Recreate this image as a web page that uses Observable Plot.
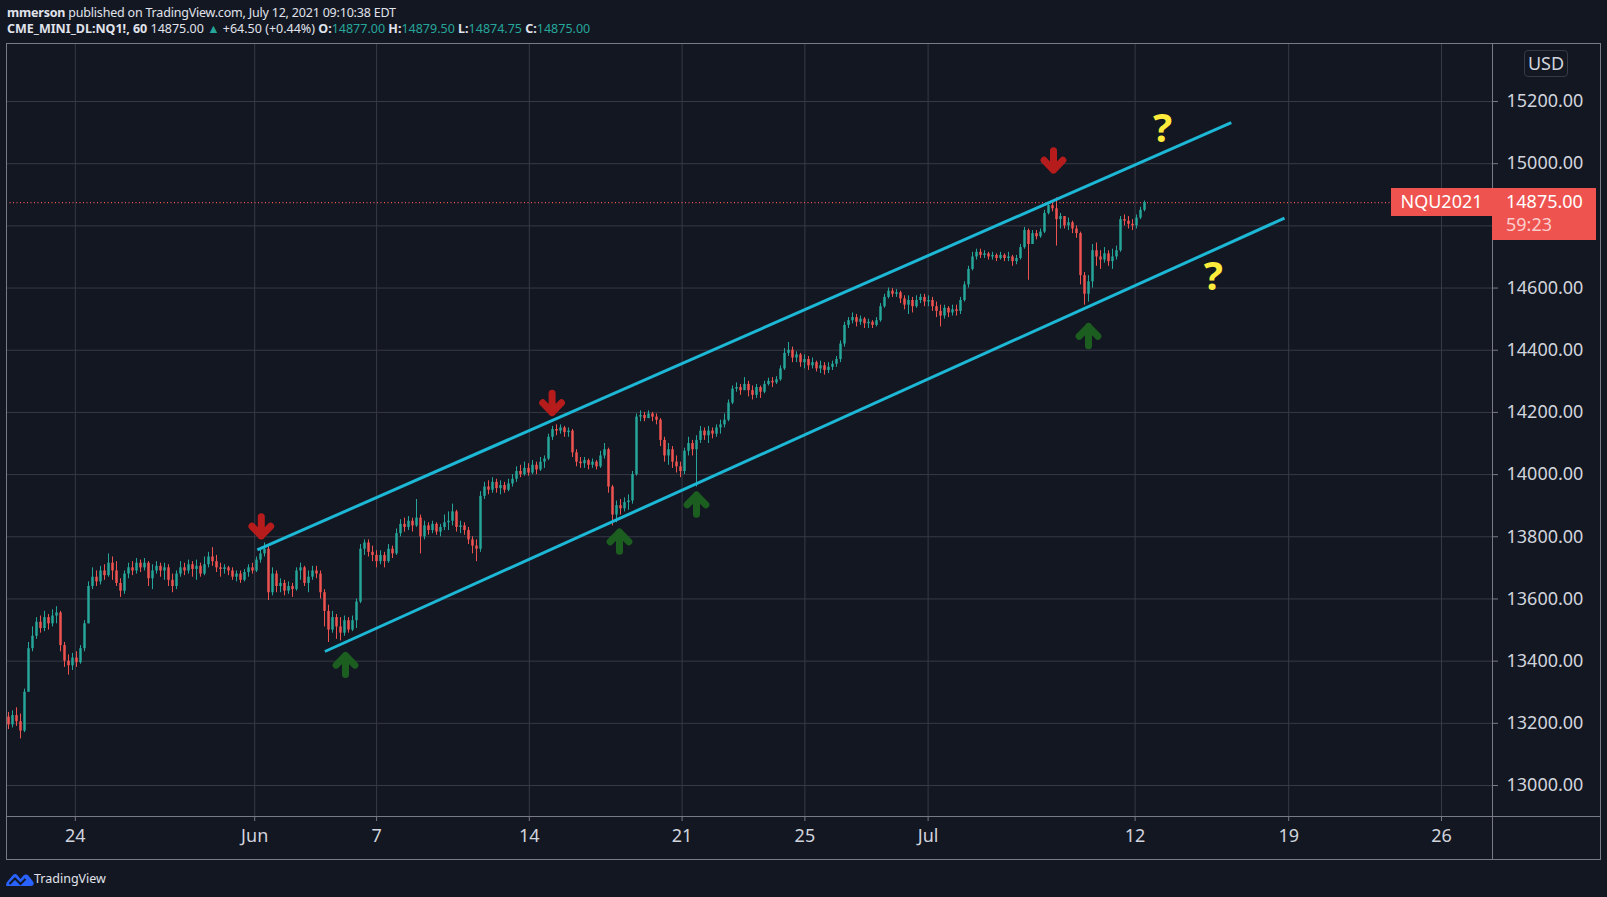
<!DOCTYPE html>
<html><head><meta charset="utf-8">
<script src="https://cdn.jsdelivr.net/npm/d3@7"></script>
<script src="https://cdn.jsdelivr.net/npm/@observablehq/plot@0.6"></script>
<style>
html,body{margin:0;padding:0;background:#131722;width:1607px;height:897px;overflow:hidden;font-family:"Noto Sans",sans-serif;color:#d1d4dc}
.hdr{position:absolute;left:7px;font-size:12.5px;white-space:nowrap;line-height:16px;color:#e0e3eb}
.teal{color:#26a69a}
.frame{position:absolute;left:6px;top:43px;width:1595px;height:817px;border:1px solid #787b86;box-sizing:border-box;z-index:2}
.vsep{position:absolute;left:1492px;top:43px;width:1px;height:817px;background:#787b86;z-index:2}
.hsep{position:absolute;left:6px;top:816px;width:1595px;height:1px;background:#787b86;z-index:2}
#chart{position:absolute;left:0;top:43px;z-index:1}
#chart svg g[aria-label="y-axis tick"], #chart svg g[aria-label="x-axis tick"]{stroke:#787b86}
.tag{position:absolute;background:#ef5350;color:#fff;font-size:18px;z-index:3;box-sizing:border-box;white-space:nowrap}
#usd{position:absolute;left:1524px;top:50px;width:44px;height:27px;border:1px solid #363a45;border-radius:4px;box-sizing:border-box;font-size:18px;line-height:24px;text-align:center;color:#d1d4dc;z-index:3}
#logo{position:absolute;left:6px;top:871px;z-index:3}
#logotext{position:absolute;left:34px;top:870px;font-size:12.5px;line-height:18px;color:#e0e3eb}
</style></head>
<body>
<div id="hdr1" class="hdr" style="top:5px;letter-spacing:-0.2px"></div>
<div id="hdr2" class="hdr" style="top:21px"></div>
<div id="chart"></div>
<div class="frame"></div><div class="vsep"></div><div class="hsep"></div>
<div id="usd">USD</div>
<svg id="logo" width="28" height="17" viewBox="0 0 28 17">
  <path d="M1,15 C-0.5,15 0,12 1.5,10.5 L7,4 C8.3,2.6 10,2.6 11.2,4 L14.5,8 L17.5,4.5 C19,3 21,3 22.3,4.6 L27,10.5 C28.5,12.5 27.5,15 25,15 Z" fill="#2962ff"/>
  <path d="M3.5,13 L9,7.5 L14.5,13 L19.5,8" fill="none" stroke="#131722" stroke-width="2"/>
</svg>
<div id="logotext">TradingView</div>
<script>
// ---------- data ----------
const publisher = "mmerson";
const publishedText = "published on TradingView.com, July 12, 2021 09:10:38 EDT";
const symbolText = "CME_MINI_DL:NQ1!, 60";
const lastPrice = 14875.00;
const changeText = "+64.50 (+0.44%)";
const ohlcLabels = ["O", "H", "L", "C"];
const ohlcValues = [14877.00, 14879.50, 14874.75, 14875.00];
const contractName = "NQU2021";
const countdown = "59:23";

const yTicks = [13000, 13200, 13400, 13600, 13800, 14000, 14200, 14400, 14600, 14800, 15000, 15200];
const xTickPos = [16.7, 61.55, 92.03, 130.2, 168.4, 199.1, 229.9, 281.65, 320.05, 358.25];
const xTickLabels = ["24", "Jun", "7", "14", "21", "25", "Jul", "12", "19", "26"];

const firstOpen = 13220;
const close = [
13195,13225,13205,13175,13300,13440,13480,13525,13505,13540,
13520,13545,13555,13450,13400,13385,13410,13395,13440,13520,
13640,13670,13655,13690,13675,13715,13690,13650,13625,13680,
13700,13690,13715,13700,13715,13665,13690,13705,13690,13700,
13660,13640,13680,13700,13690,13710,13695,13705,13680,13710,
13735,13720,13700,13695,13700,13690,13670,13680,13660,13685,
13700,13690,13725,13745,13760,13620,13680,13640,13650,13625,
13640,13630,13690,13700,13650,13670,13690,13680,13620,13560,
13500,13540,13510,13490,13530,13500,13530,13590,13760,13780,
13750,13740,13720,13740,13720,13760,13745,13810,13840,13830,
13850,13835,13860,13800,13835,13820,13840,13815,13830,13845,
13850,13880,13830,13835,13820,13790,13770,13760,13930,13960,
13950,13975,13955,13965,13950,13970,13985,14010,14000,14020,
14005,14030,14015,14040,14050,14120,14145,14140,14150,14135,
14140,14070,14040,14035,14045,14030,14040,14025,14060,14080,
13960,13870,13900,13890,13910,13915,14000,14185,14190,14180,
14195,14185,14175,14110,14060,14080,14040,14025,14010,14075,
14100,14080,14110,14140,14125,14140,14130,14150,14160,14175,
14230,14275,14280,14270,14290,14270,14255,14280,14265,14290,
14300,14295,14305,14340,14390,14400,14375,14385,14360,14370,
14350,14360,14340,14350,14335,14345,14355,14370,14420,14480,
14495,14505,14490,14500,14485,14490,14480,14495,14540,14570,
14590,14580,14585,14565,14545,14560,14540,14560,14570,14555,
14560,14540,14525,14510,14535,14520,14530,14525,14560,14610,
14660,14700,14715,14705,14710,14700,14705,14695,14705,14695,
14700,14685,14695,14730,14785,14740,14775,14765,14780,14840,
14865,14855,14820,14830,14800,14810,14790,14775,14640,14580,
14620,14720,14700,14690,14710,14685,14700,14720,14820,14815,
14805,14800,14825,14850,14875];
const high = [
13235,13240,13250,13230,13310,13460,13510,13540,13545,13560,
13550,13565,13575,13560,13460,13420,13425,13430,13450,13530,
13655,13700,13690,13705,13710,13745,13735,13720,13665,13690,
13715,13720,13730,13725,13730,13720,13710,13720,13715,13715,
13710,13680,13690,13720,13715,13725,13720,13725,13715,13735,
13750,13765,13740,13715,13710,13705,13700,13690,13690,13695,
13710,13715,13735,13760,13780,13775,13700,13690,13665,13660,
13655,13650,13700,13715,13705,13690,13705,13705,13690,13630,
13580,13560,13550,13540,13545,13540,13545,13600,13775,13790,
13790,13770,13755,13755,13750,13775,13770,13825,13855,13860,
13865,13860,13920,13870,13850,13845,13850,13845,13840,13870,
13880,13905,13885,13850,13845,13830,13800,13790,13945,13975,
13980,13990,13985,13980,13975,13985,14000,14025,14030,14040,
14035,14045,14040,14055,14060,14130,14155,14160,14160,14155,
14150,14145,14080,14055,14055,14050,14050,14045,14075,14100,
14085,13965,13915,13920,13925,13935,14010,14195,14205,14200,
14205,14200,14195,14180,14120,14100,14090,14060,14040,14085,
14120,14110,14125,14155,14150,14155,14150,14160,14175,14195,
14240,14285,14295,14290,14312,14300,14285,14290,14285,14300,
14310,14312,14315,14350,14405,14425,14410,14395,14390,14385,
14380,14375,14365,14365,14360,14360,14365,14380,14430,14490,
14505,14520,14515,14510,14505,14500,14495,14505,14550,14580,
14600,14598,14595,14590,14575,14575,14570,14575,14580,14580,
14575,14570,14555,14545,14545,14540,14545,14545,14570,14620,
14670,14715,14725,14725,14720,14715,14715,14710,14715,14710,
14715,14705,14705,14740,14795,14790,14785,14785,14790,14850,
14875,14880,14890,14840,14830,14825,14815,14800,14780,14650,
14640,14740,14745,14720,14730,14720,14725,14735,14830,14835,
14830,14820,14835,14860,14880];
const low = [
13180,13185,13190,13150,13170,13300,13430,13470,13490,13495,
13500,13510,13520,13430,13380,13355,13370,13380,13390,13430,
13520,13630,13640,13645,13660,13670,13660,13640,13605,13615,
13665,13675,13680,13685,13690,13640,13630,13680,13670,13660,
13640,13620,13630,13670,13675,13680,13670,13660,13670,13675,
13700,13705,13685,13670,13680,13675,13660,13655,13650,13655,
13670,13680,13685,13715,13735,13595,13610,13620,13620,13610,
13615,13605,13625,13660,13640,13620,13660,13665,13600,13510,
13460,13490,13470,13465,13480,13490,13495,13505,13585,13740,
13735,13720,13700,13710,13700,13715,13730,13740,13800,13815,
13820,13815,13830,13745,13790,13805,13810,13805,13800,13820,
13820,13835,13815,13810,13805,13775,13745,13720,13750,13920,
13935,13940,13940,13935,13940,13945,13960,13975,13990,13995,
13995,14000,14000,14010,14020,14045,14110,14125,14130,14120,
14120,14055,14025,14020,14020,14015,14020,14015,14020,14050,
13940,13835,13845,13870,13880,13885,13905,13995,14170,14170,
14180,14170,14160,14090,14040,14030,14020,14005,13990,14000,
14060,14060,13960,14100,14110,14100,14115,14120,14130,14150,
14170,14225,14265,14255,14270,14250,14240,14245,14245,14260,
14285,14280,14290,14300,14335,14380,14360,14360,14345,14340,
14335,14340,14330,14325,14320,14325,14335,14345,14360,14410,
14470,14485,14475,14480,14470,14470,14470,14475,14490,14535,
14565,14570,14570,14550,14530,14515,14520,14535,14550,14540,
14540,14525,14505,14475,14500,14505,14510,14510,14515,14555,
14600,14655,14690,14695,14695,14690,14690,14685,14690,14685,
14685,14670,14675,14690,14725,14625,14740,14755,14760,14775,
14835,14845,14735,14790,14790,14785,14775,14760,14610,14545,
14555,14600,14670,14660,14680,14670,14660,14690,14715,14800,
14790,14785,14790,14820,14845];

// channel lines (bar index, price)
const upperX = [62.2, 305.7];
const upperY = [13758, 15132];
const lowerX = [79.1, 319.0];
const lowerY = [13431, 14825];

// annotations
const downArrowX = [63.2, 135.9, 261.25];
const downArrowY = [13833, 14230, 15010];
const upArrowX = [84.25, 152.75, 172.0, 270.0];
const upArrowY = [13388, 13785, 13904, 14446];
const questionX = [288.5, 301.2];
const questionY = [15110, 14635];

// ---------- header ----------
document.getElementById("hdr1").innerHTML = `<b>${publisher}</b> ${publishedText}`;
document.getElementById("hdr2").innerHTML =
  `<b>${symbolText}</b> ${lastPrice.toFixed(2)} <span class="teal">&#9650;</span> ${changeText} ` +
  ohlcLabels.map((l, k) => `<b>${l}:</b><span class="teal">${ohlcValues[k].toFixed(2)}</span>`).join(" ");

// ---------- chart ----------
const n = Math.min(close.length, high.length, low.length);
const bars = d3.range(n).map(i => ({
  i, open: i ? close[i - 1] : firstOpen, close: close[i], high: high[i], low: low[i]
}));
const UP = "#26a69a", DOWN = "#ef5350";
const col = d => d.close >= d.open ? UP : DOWN;

const downArrow = {draw(ctx, size) { const r = Math.sqrt(size / Math.PI);
  ctx.moveTo(0, -0.75 * r); ctx.lineTo(0, 0.72 * r);
  ctx.moveTo(-0.72 * r, -0.02 * r); ctx.lineTo(0, 0.72 * r); ctx.lineTo(0.72 * r, -0.02 * r); }};
const upArrow = {draw(ctx, size) { const r = Math.sqrt(size / Math.PI);
  ctx.moveTo(0, 0.75 * r); ctx.lineTo(0, -0.72 * r);
  ctx.moveTo(-0.72 * r, 0.02 * r); ctx.lineTo(0, -0.72 * r); ctx.lineTo(0.72 * r, 0.02 * r); }};

const channels = [
  {x1: upperX[0], y1: upperY[0], x2: upperX[1], y2: upperY[1]},
  {x1: lowerX[0], y1: lowerY[0], x2: lowerX[1], y2: lowerY[1]}
];
const downs = downArrowX.map((x, k) => ({x, y: downArrowY[k]}));
const ups = upArrowX.map((x, k) => ({x, y: upArrowY[k]}));
const qs = questionX.map((x, k) => ({x, y: questionY[k]}));
const labelOf = new Map(xTickPos.map((p, k) => [p, xTickLabels[k]]));

const yDomain = [12900.3, 15386.6];
const plotH = 817 - 44;
const yToPx = v => (yDomain[1] - v) / (yDomain[1] - yDomain[0]) * plotH;
// tick labels hidden by the price tag (tag spans -14..+38 px around the last price)
const yLabelTicks = yTicks.filter(t => {
  const d = yToPx(t) - yToPx(lastPrice);
  return d < -22 || d > 46;
});

const chart = Plot.plot({
  width: 1607, height: 817,
  marginLeft: 6, marginRight: 115, marginTop: 0, marginBottom: 44,
  style: {background: "transparent", color: "#d1d4dc", fontFamily: "'Noto Sans', sans-serif", fontSize: "18px", overflow: "visible"},
  x: {type: "linear", domain: [-0.5, 371]},
  y: {domain: yDomain},
  color: {type: "identity"},
  marks: [
    Plot.gridY(yTicks, {stroke: "#363a45", strokeOpacity: 1}),
    Plot.gridX(xTickPos, {stroke: "#363a45", strokeOpacity: 1}),
    Plot.axisY(yTicks, {anchor: "right", tickSize: 5, text: null, label: null}),
    Plot.axisY(yLabelTicks, {anchor: "right", tickSize: 0, tickPadding: 14, tickFormat: d => d.toFixed(2), label: null}),
    Plot.axisX(xTickPos, {anchor: "bottom", tickSize: 5, tickPadding: 8, tickFormat: d => labelOf.get(d), label: null}),
    Plot.ruleY([lastPrice], {stroke: "#ef5350", strokeDasharray: "1,2.5", strokeWidth: 1.2}),
    Plot.ruleX(bars, {x: "i", y1: "low", y2: "high", stroke: col, strokeWidth: 1}),
    Plot.ruleX(bars, {x: "i", y1: "open", y2: "close", stroke: col, strokeWidth: 2.5}),
    Plot.link(channels, {x1: "x1", y1: "y1", x2: "x2", y2: "y2", stroke: "#1cb8d6", strokeWidth: 3}),
    Plot.dot(downs, {x: "x", y: "y", r: 13, symbol: downArrow, fill: "none", stroke: "#b71c1c", strokeWidth: 7, strokeLinecap: "round", strokeLinejoin: "round"}),
    Plot.dot(ups, {x: "x", y: "y", r: 13, symbol: upArrow, fill: "none", stroke: "#1b5e20", strokeWidth: 7, strokeLinecap: "round", strokeLinejoin: "round"}),
    Plot.text(qs, {x: "x", y: "y", text: () => "?", fontSize: 40, fontWeight: "bold", fill: "#ffeb3b", lineAnchor: "middle"})
  ]
});
document.getElementById("chart").appendChild(chart);

// price tags positioned through the y scale
const yPx = 43 + chart.scale("y").apply(lastPrice);
const tag1 = document.createElement("div");
tag1.className = "tag";
tag1.style.cssText = `left:1391px;top:${yPx - 14}px;width:101px;height:28px;line-height:27px;text-align:center;`;
tag1.textContent = contractName;
document.body.appendChild(tag1);
const tag2 = document.createElement("div");
tag2.className = "tag";
tag2.style.cssText = `left:1492px;top:${yPx - 14}px;width:104px;height:52px;padding-left:14px;line-height:23px;padding-top:2px;`;
tag2.innerHTML = `${lastPrice.toFixed(2)}<br><span style="color:rgba(255,255,255,0.72)">${countdown}</span>`;
document.body.appendChild(tag2);
</script>
</body></html>
